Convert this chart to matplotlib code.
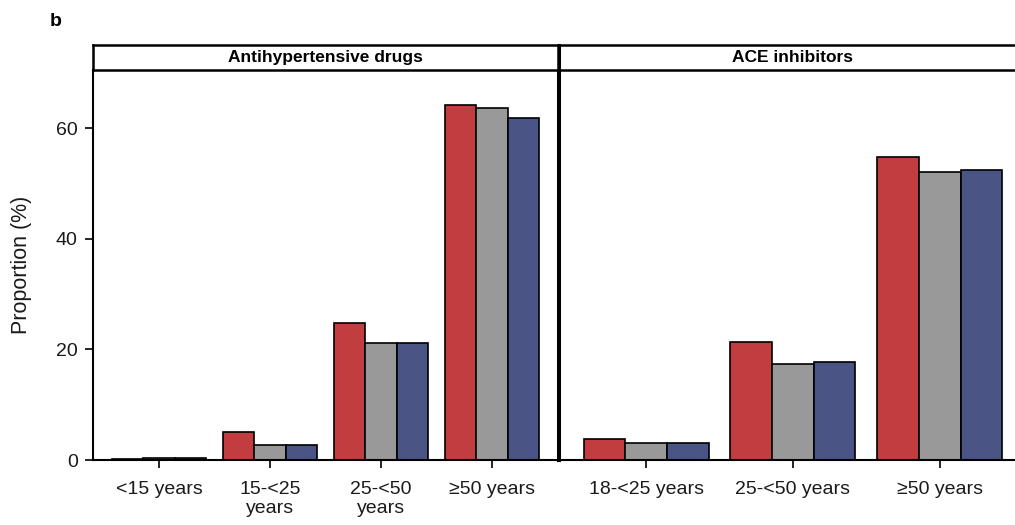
import matplotlib.pyplot as plt
import numpy as np

plt.rcParams["font.family"] = ["Liberation Sans", "DejaVu Sans"]

# proportions (%) by age group, three series per group
anti_groups = ["<15 years", "15-<25\nyears", "25-<50\nyears", "\u226550 years"]
anti_red = [0.2, 5.0, 24.7, 64.2]
anti_grey = [0.3, 2.7, 21.1, 63.6]
anti_blue = [0.3, 2.8, 21.1, 61.9]

ace_groups = ["18-<25 years", "25-<50 years", "\u226550 years"]
ace_red = [3.8, 21.3, 54.8]
ace_grey = [3.1, 17.4, 52.1]
ace_blue = [3.1, 17.65, 52.5]

colors = ["#c23d3f", "#999999", "#4a5586"]
width = 0.284

fig = plt.figure(figsize=(10.15, 5.25), dpi=100)

bottom, top = 0.1238, 0.8667
head_h = 0.0476

panels = [
    (0.0916, 0.4582, "Antihypertensive drugs", anti_groups, [anti_red, anti_grey, anti_blue]),
    (0.5507, 0.4611, "ACE inhibitors", ace_groups, [ace_red, ace_grey, ace_blue]),
]

for i, (left, w, title, groups, series) in enumerate(panels):
    ax = fig.add_axes([left, bottom, w, top - bottom])
    x = np.arange(len(groups))
    for k, vals in enumerate(series):
        ax.bar(x + (k - 1) * width, vals, width, color=colors[k],
               edgecolor="black", linewidth=1.2, zorder=2)
    ax.set_xlim(-0.595, len(groups) - 1 + 0.595)
    ax.set_ylim(0, 70.5)
    ax.set_xticks(x)
    ax.set_xticklabels(groups, fontsize=14, color="#1a1a1a", linespacing=1.15)
    ax.tick_params(axis="x", length=6, width=1.2, pad=9)
    ax.spines["top"].set_visible(False)
    ax.spines["bottom"].set_linewidth(1.5)
    if i == 0:
        ax.set_yticks([0, 20, 40, 60])
        ax.tick_params(axis="y", length=6, width=1.2, labelsize=14, labelcolor="#1a1a1a", pad=5)
        ax.set_ylabel("Proportion (%)", fontsize=15.5, color="#1a1a1a")
        ax.yaxis.set_label_coords(-0.132, 0.5)
        ax.spines["left"].set_linewidth(1.5)
        ax.spines["right"].set_linewidth(2.2)
    else:
        ax.set_yticks([])
        ax.spines["left"].set_linewidth(2.2)
        ax.spines["right"].set_visible(False)

    hx = fig.add_axes([left, top, w, head_h])
    hx.set_xticks([])
    hx.set_yticks([])
    for s in hx.spines.values():
        s.set_linewidth(1.8)
    if i == 1:
        hx.spines["left"].set_linewidth(2.2)
    hx.text(0.5, 0.5, title, transform=hx.transAxes,
            ha="center", va="center", fontsize=12.5, fontweight="bold")

fig.text(0.049, 0.96, "b", fontsize=14, fontweight="bold", va="center")

fig.savefig("out.png", dpi=100)
